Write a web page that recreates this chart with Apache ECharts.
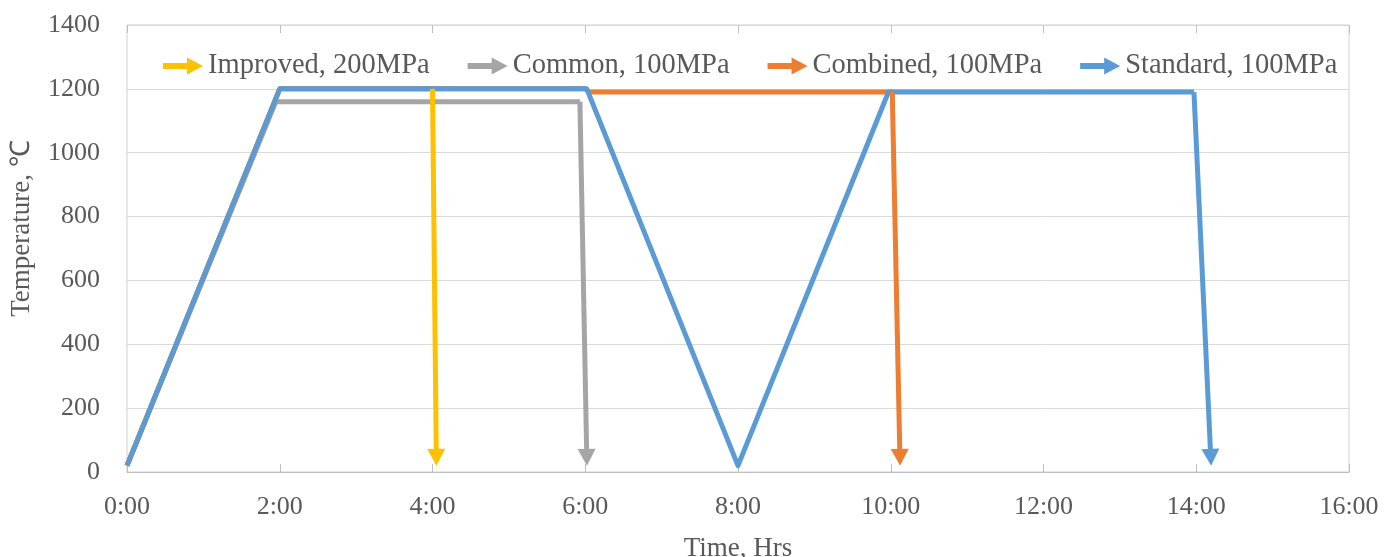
<!DOCTYPE html>
<html>
<head>
<meta charset="utf-8">
<script src="https://cdn.jsdelivr.net/npm/echarts@6/dist/echarts.min.js"></script>
<style>
  html, body { margin: 0; padding: 0; background: #fff; }
  #chart { width: 1385px; height: 557px; }
</style>
</head>
<body>
<div id="chart"></div>
<script>
// series: time in hours, temperature in degC (last point = arrow tip)
const seriesNames = ['Improved, 200MPa', 'Common, 100MPa', 'Combined, 100MPa', 'Standard, 100MPa'];
const seriesColors = ['#FFC000', '#A5A5A5', '#ED7D31', '#5B9BD5'];

const improvedTime = [0, 2, 4, 4.05];
const improvedTemp = [20, 1200, 1200, 46];

const commonTime = [0, 1.95, 5.93, 6.02];
const commonTemp = [20, 1160, 1160, 46];

const combinedTime = [0, 2, 6, 6.05, 10.02, 10.12];
const combinedTemp = [20, 1200, 1200, 1190, 1190, 46];

const standardTime = [0, 2, 6.02, 8, 9.97, 13.97, 14.19];
const standardTemp = [20, 1200, 1200, 20, 1190, 1190, 46];

const textColor = '#595959';
const fontFamily = 'Liberation Serif';
const arrowIcon = 'path://M0,5.5 L24,5.5 L24,0 L40,8.5 L24,17 L24,11.5 L0,11.5 Z';

function buildSeries(name, color, times, temps) {
    const pts = times.map(function(t, i) { return [t, temps[i]]; });
    const n = pts.length;
    return {
        name: name,
        type: 'line',
        color: color,
        showSymbol: false,
        symbol: 'none',
        silent: true,
        lineStyle: {width: 5, color: color, join: 'round'},
        data: pts.slice(0, n - 1),
        // last segment drawn as an arrow
        markLine: {
            silent: true,
            animation: false,
            symbolSize: [18, 17],
            label: {show: false},
            emphasis: {disabled: true},
            lineStyle: {width: 5, color: color, type: 'solid'},
            data: [[
                {coord: pts[n - 2], symbol: 'none'},
                {coord: pts[n - 1], symbol: 'triangle'}
            ]]
        }
    };
}

const chart = echarts.init(document.getElementById('chart'));

const axisTickStyle = {show: true, inside: true, length: 8, lineStyle: {color: '#BFBFBF'}};

chart.setOption({
    animation: false,
    textStyle: {fontFamily: fontFamily},
    grid: {
        left: 127, right: 36, top: 25, bottom: 85,
        containLabel: false,
        outerBoundsMode: 'none',
        show: true, borderColor: '#D0D0D0', borderWidth: 1
    },
    legend: {
        left: 158,
        top: 46,
        icon: arrowIcon,
        itemWidth: 40,
        itemHeight: 17,
        itemGap: 38,
        textStyle: {fontFamily: fontFamily, fontSize: 28.5, color: textColor, lineHeight: 30},
        data: seriesNames.map(function(n, i) {
            return {name: n, itemStyle: {color: seriesColors[i]}};
        })
    },
    xAxis: [{
        type: 'value',
        min: 0,
        max: 16,
        interval: 2,
        name: 'Time, Hrs',
        nameLocation: 'middle',
        nameGap: 63,
        nameTextStyle: {fontFamily: fontFamily, fontSize: 27, color: textColor},
        axisLine: {show: true, lineStyle: {color: '#BFBFBF'}},
        axisTick: axisTickStyle,
        splitLine: {show: false},
        axisLabel: {
            fontFamily: fontFamily, fontSize: 26, color: textColor, margin: 22,
            formatter: function(v) { return v + ':00'; }
        }
    }, {
        type: 'value',
        position: 'top',
        min: 0,
        max: 16,
        interval: 2,
        axisLine: {show: false},
        axisTick: axisTickStyle,
        splitLine: {show: false},
        axisLabel: {show: false}
    }],
    yAxis: {
        type: 'value',
        min: 0,
        max: 1400,
        interval: 200,
        name: 'Temperature, ℃',
        nameLocation: 'middle',
        nameGap: 92,
        nameTextStyle: {fontFamily: fontFamily, fontSize: 27, color: textColor, padding: [0, 0, 0, 40]},
        axisLine: {show: false},
        axisTick: {show: false},
        splitLine: {lineStyle: {color: '#D9D9D9'}},
        axisLabel: {
            fontFamily: fontFamily, fontSize: 26, color: textColor, margin: 27,
            formatter: function(v) { return String(v); }
        }
    },
    series: [
        buildSeries(seriesNames[0], seriesColors[0], improvedTime, improvedTemp),
        buildSeries(seriesNames[1], seriesColors[1], commonTime, commonTemp),
        buildSeries(seriesNames[2], seriesColors[2], combinedTime, combinedTemp),
        buildSeries(seriesNames[3], seriesColors[3], standardTime, standardTemp)
    ]
});
</script>
</body>
</html>
